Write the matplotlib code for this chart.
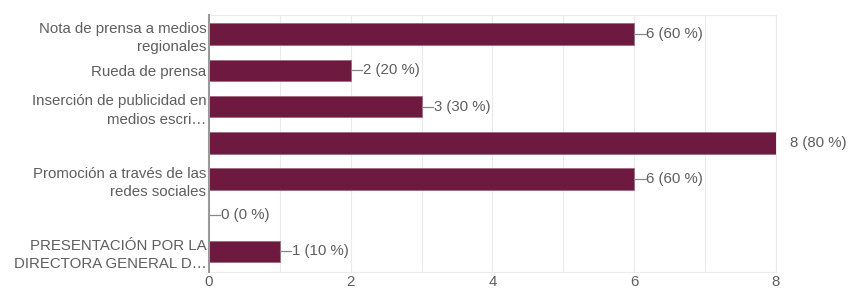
import matplotlib.pyplot as plt
from matplotlib.ticker import MultipleLocator

plt.rcParams['font.family'] = ['Liberation Sans', 'DejaVu Sans']

categories = [
    "Nota de prensa a medios\nregionales",
    "Rueda de prensa",
    "Inserción de publicidad en\nmedios escri…",
    "",
    "Promoción a través de las\nredes sociales",
    "",
    "PRESENTACIÓN POR LA\nDIRECTORA GENERAL D…",
]
counts = [6, 2, 3, 8, 6, 0, 1]
percents = [60, 20, 30, 80, 60, 0, 10]
x_ticks = [0, 2, 4, 6, 8]

bar_color = '#6e1a40'
text_color = '#5e5e5e'
fs = 10.8

fig = plt.figure(figsize=(8.48, 2.9), dpi=100)
ax = fig.add_axes([0.2465, 0.062, 0.6685, 0.886])

pos = list(range(len(categories)))
ax.barh(pos, counts, height=0.6, color=bar_color, edgecolor='#9c6b80', linewidth=0.6, zorder=3)

xmax = 8
for y, c, p in zip(pos, counts, percents):
    label = f"{c} ({p} %)"
    if c >= xmax:
        ax.text(c + 0.2, y, label, va='center', ha='left', fontsize=fs,
                color=text_color, clip_on=False)
    else:
        ax.plot([c, c + 0.16], [y, y], color='#888888', lw=0.9, zorder=4)
        ax.text(c + 0.17, y, label, va='center', ha='left', fontsize=fs,
                color=text_color)

ax.set_xlim(0, xmax)
ax.set_ylim(6.57, -0.53)
ax.set_yticks(pos)
ax.set_yticklabels(categories, fontsize=fs, color=text_color, linespacing=1.4)
ax.set_xticks(x_ticks)
ax.set_xticklabels([str(t) for t in x_ticks], fontsize=fs, color=text_color)
ax.xaxis.set_minor_locator(MultipleLocator(1))
ax.tick_params(axis='both', which='both', length=0)
ax.tick_params(axis='y', pad=2)
ax.tick_params(axis='x', pad=2)

ax.grid(axis='x', which='both', color='#ebebeb', lw=0.8, zorder=0)
for side in ['top', 'right', 'bottom']:
    ax.spines[side].set_color('#ebebeb')
    ax.spines[side].set_linewidth(0.8)
ax.spines['left'].set_color('#999999')
ax.spines['left'].set_linewidth(1.5)
ax.spines['left'].set_zorder(5)

fig.savefig('out.png', dpi=100)
